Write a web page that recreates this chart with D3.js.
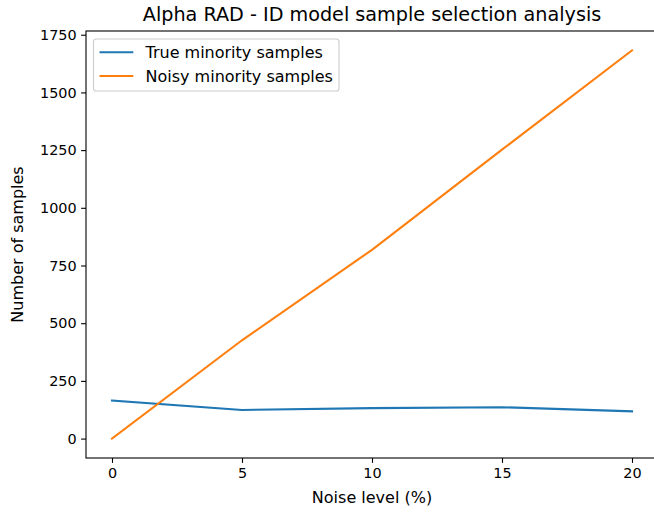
<!DOCTYPE html>
<html><head><meta charset="utf-8">
<script src="https://cdn.jsdelivr.net/npm/d3@7"></script>
<style>body{margin:0;background:#fff}svg{display:block}text{font-family:"DejaVu Sans",sans-serif;fill:#000}</style>
</head><body>
<script>
const noiseLevels = [0, 5, 10, 15, 20];
const trueMinority = [165, 124, 132, 136, 118];
const noisyMinority = [0, 426, 818, 1252, 1682];
const seriesNames = ["True minority samples", "Noisy minority samples"];
const xTicks = [0, 5, 10, 15, 20];
const yTicks = [0, 250, 500, 750, 1000, 1250, 1500, 1750];

const W = 654, H = 513;
const m = {left: 86, top: 31, right: 658, bottom: 458};
const svg = d3.select("body").append("svg").attr("width", W).attr("height", H);

const x = d3.scaleLinear().domain([-1, 21]).range([m.left, m.right]);
const y = d3.scaleLinear().domain([-84.1, 1766.1]).range([m.bottom, m.top]);

const xa = svg.append("g").attr("transform", `translate(0,${m.bottom})`)
  .call(d3.axisBottom(x).tickValues(xTicks).tickSize(4.9).tickPadding(4.8).tickFormat(d3.format("d")));
const ya = svg.append("g").attr("transform", `translate(${m.left},0)`)
  .call(d3.axisLeft(y).tickValues(yTicks).tickSize(4.9).tickPadding(4.5).tickFormat(d3.format("d")));
[xa, ya].forEach(a => {
  a.select(".domain").remove();
  a.selectAll("line").attr("stroke", "#000").attr("stroke-width", 1.1);
  a.selectAll("text").style("font-size", "14.4px").style("font-family", '"DejaVu Sans",sans-serif').attr("fill", "#000");
});
svg.append("rect").attr("x", m.left).attr("y", m.top).attr("width", m.right - m.left).attr("height", m.bottom - m.top)
  .attr("fill", "none").attr("stroke", "#000").attr("stroke-width", 1.1);

const colors = ["#1f77b4", "#ff7f0e"];
const series = [trueMinority, noisyMinority];
const line = d3.line().x((d, i) => x(noiseLevels[i])).y(d => y(d));
series.forEach((s, k) => {
  svg.append("path").datum(s).attr("d", line).attr("fill", "none")
    .attr("stroke", colors[k]).attr("stroke-width", 2.08).attr("stroke-linecap", "square");
});

svg.append("text").attr("x", (m.left + m.right) / 2).attr("y", 20.5).attr("text-anchor", "middle")
  .style("font-size", "19.2px").text("Alpha RAD - ID model sample selection analysis");
svg.append("text").attr("x", (m.left + m.right) / 2).attr("y", 503).attr("text-anchor", "middle")
  .style("font-size", "16px").text("Noise level (%)");
svg.append("text").attr("transform", `translate(22.5,${(m.top + m.bottom) / 2}) rotate(-90)`).attr("text-anchor", "middle")
  .style("font-size", "16px").text("Number of samples");

const lg = svg.append("g");
lg.append("rect").attr("x", 93.5).attr("y", 39).attr("width", 245.5).attr("height", 52).attr("rx", 2.8)
  .attr("fill", "#fff").attr("fill-opacity", 0.8).attr("stroke", "#cccccc").attr("stroke-width", 1.1);
seriesNames.forEach((n, k) => {
  const yy = 52.3 + k * 23.7;
  lg.append("line").attr("x1", 99.5).attr("x2", 133.3).attr("y1", yy).attr("y2", yy)
    .attr("stroke", colors[k]).attr("stroke-width", 2.08);
  lg.append("text").attr("x", 145.5).attr("y", yy + 5.7).style("font-size", "16px").text(n);
});
</script>
</body></html>
